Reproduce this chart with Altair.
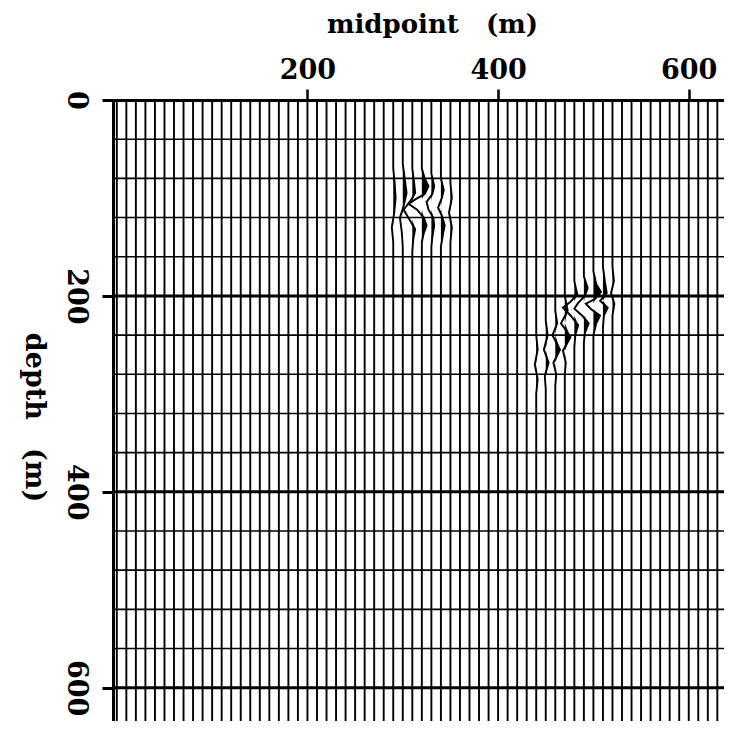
import altair as alt
import pandas as pd

# midpoints of the traces (m)
trace_pos = [0, 10, 20, 30, 40, 50, 60, 70, 80, 90, 100, 110, 120, 130, 140, 150,
             160, 170, 180, 190, 200, 210, 220, 230, 240, 250, 260, 270, 280, 290,
             300, 310, 320, 330, 340, 350, 360, 370, 380, 390, 400, 410, 420, 430,
             440, 450, 460, 470, 480, 490, 500, 510, 520, 530, 540, 550, 560, 570,
             580, 590, 600, 610, 620, 630, 640]
depth_top = 0
depth_bottom = 640

# horizontal reference lines (m)
grid_minor = [40, 80, 120, 160, 240, 280, 320, 360, 440, 480, 520, 560, 640]
grid_major = [200, 400, 600]

x_ticks = [200, 400, 600]
y_ticks = [0, 200, 400, 600]

# event samples: trace midpoint, depth, horizontal amplitude (m)
ev_trace = (
    [290] * 6 + [300] * 7 + [310] * 9 + [320] * 11 + [330] * 9 + [340] * 8 + [350] * 5 +
    [440] * 5 + [450] * 6 + [460] * 7 + [470] * 7 + [480] * 8 + [490] * 9 + [500] * 9 +
    [510] * 7 + [520] * 5
)
ev_depth = (
    [70, 85, 100, 115, 130, 145] +
    [65, 80, 95, 108, 120, 135, 150] +
    [70, 85, 95, 103, 112, 122, 132, 142, 155] +
    [70, 80, 88, 96, 101, 106, 112, 120, 128, 136, 145] +
    [75, 88, 96, 104, 112, 120, 128, 140, 150] +
    [80, 92, 100, 110, 118, 128, 138, 150] +
    [85, 100, 115, 130, 145] +
    [240, 255, 270, 285, 300] +
    [225, 240, 255, 268, 282, 295] +
    [215, 228, 240, 255, 268, 280, 292] +
    [200, 215, 228, 242, 256, 268, 280] +
    [185, 198, 206, 212, 220, 230, 240, 252] +
    [180, 192, 200, 207, 213, 220, 228, 238, 248] +
    [175, 188, 196, 203, 208, 214, 220, 228, 240] +
    [170, 185, 197, 205, 212, 220, 232] +
    [170, 185, 197, 208, 220]
)
ev_amp = (
    [0, 1.5, 2.5, 1, -1.5, 0] +
    [0, 2, 4, 1, -3, -1, 0] +
    [0, 2, 3, -2, -9, -3, 3, 1, 0] +
    [0, 3, 7, 3, -6, -14, -5, 2, 5, 2, 0] +
    [0, 3, 1, -5, -3, 2, 3, 1, 0] +
    [0, 3, 1, -3, 1, 4, 2, 0] +
    [0, 1.5, -1.5, 1.5, 0] +
    [0, 1.5, -1.5, 1.5, 0] +
    [0, 2, -2, 3, -1, 0] +
    [0, 2, -3, 5, -2, 1, 0] +
    [0, 3, -4, 6, -2, 1, 0] +
    [0, 3, -4, -12, -4, 4, 1, 0] +
    [0, 4, 1, -6, -10, -2, 5, 1, 0] +
    [0, 3, 8, 2, -8, -2, 7, 3, 0] +
    [0, 2, 4, -3, 5, 1, 0] +
    [0, 1.5, -1.5, 2, 0]
)

rows = []
for p in trace_pos:
    rows.append((p, depth_top, 0.0))
    rows.append((p, depth_bottom, 0.0))
for t, d, a in zip(ev_trace, ev_depth, ev_amp):
    rows.append((t, d, a))
df = pd.DataFrame(rows, columns=["trace", "depth", "amp"]).sort_values(["trace", "depth"])
df["xpos"] = df["trace"] + df["amp"]
df["xfill"] = df["trace"] + df["amp"].clip(lower=0)

FONT = "DejaVu Serif"
NB = "\u00a0"
XTITLE = "midpoint" + NB * 3 + "(m)"
YTITLE = "depth" + NB * 3 + "(m)"

xscale = alt.Scale(domain=[-4, 637], nice=False, zero=False)
yscale = alt.Scale(domain=[0, 634], nice=False, zero=False, reverse=True)

xaxis = alt.Axis(
    orient="top", values=x_ticks, title=XTITLE, grid=False,
    domainColor="black", domainWidth=3, tickColor="black", tickWidth=2.5, tickSize=11,
    labelFont=FONT, labelFontWeight="bold", labelFontSize=27, labelColor="black",
    labelPadding=11, labelBaseline="alphabetic",
    titleFont=FONT, titleFontWeight="bold", titleFontSize=26, titleColor="black",
    titleX=319, titleY=-68, titleAlign="center", titleBaseline="alphabetic", titleAngle=0,
)
yaxis = alt.Axis(
    orient="left", values=y_ticks, title=YTITLE, grid=False,
    domainColor="black", domainWidth=3, tickColor="black", tickWidth=3, tickSize=11,
    labelFont=FONT, labelFontWeight="bold", labelFontSize=27, labelColor="black",
    labelAngle=90, labelAlign="center", labelBaseline="top", labelPadding=14,
    titleFont=FONT, titleFontWeight="bold", titleFontSize=27, titleColor="black",
    titleX=-88, titleY=317, titleAlign="center", titleBaseline="alphabetic", titleAngle=90,
)

lines = alt.Chart(df).mark_line(color="black", strokeWidth=1.9, interpolate="linear",
                                clip=True).encode(
    x=alt.X("xpos:Q", scale=xscale, axis=xaxis),
    y=alt.Y("depth:Q", scale=yscale, axis=yaxis),
    detail="trace:N",
    order="depth:Q",
)

fills = alt.Chart(df).mark_area(color="black", fillOpacity=1, orient="horizontal",
                                interpolate="linear", clip=True).encode(
    x=alt.X("xfill:Q", scale=xscale, stack=None, title=XTITLE),
    x2=alt.X2("trace:Q"),
    y=alt.Y("depth:Q", scale=yscale, title=YTITLE),
    detail="trace:N",
)

minor = alt.Chart(pd.DataFrame({"depth": grid_minor})).mark_rule(
    color="black", strokeWidth=1.6, clip=True).encode(
    y=alt.Y("depth:Q", scale=yscale, title=YTITLE)
)
major = alt.Chart(pd.DataFrame({"depth": grid_major})).mark_rule(
    color="black", strokeWidth=3, clip=True).encode(
    y=alt.Y("depth:Q", scale=yscale, title=YTITLE)
)

chart = alt.layer(lines, minor, major, fills).properties(
    width=611, height=621,
    padding={"left": 105, "top": 92, "right": 0, "bottom": 0},
    autosize=alt.AutoSizeParams(type="none"),
).configure_view(stroke=None).configure(background="white")

chart.save("out.html", embed_options={"renderer": "svg", "actions": False})
